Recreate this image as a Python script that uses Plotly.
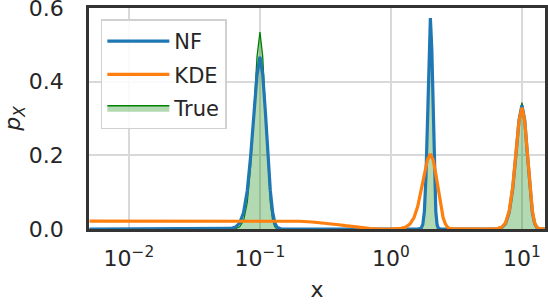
import plotly.graph_objects as go

# ---- data ----
true_x = [0.005, 0.06, 0.065, 0.07, 0.075, 0.08, 0.085, 0.09, 0.095, 0.1, 0.105, 0.11, 0.115, 0.12, 0.125, 0.13, 0.135, 0.14,
          1.6, 1.7, 1.75, 1.8, 1.85, 1.9, 1.95, 2.0, 2.05, 2.1, 2.15, 2.2, 2.25, 2.3, 2.4,
          6.0, 6.5, 7.0, 7.5, 8.0, 8.5, 9.0, 9.5, 10.0, 10.5, 11.0, 11.5, 12.0, 12.5, 13.0, 13.5, 14.0, 15.0]
true_y = [0.0, 0.0002, 0.001, 0.006, 0.023, 0.072, 0.172, 0.321, 0.468, 0.535, 0.468, 0.321, 0.172, 0.072, 0.023, 0.006, 0.001, 0.0,
          0.0, 0.002, 0.012, 0.048, 0.142, 0.308, 0.489, 0.572, 0.489, 0.308, 0.142, 0.048, 0.012, 0.002, 0.0,
          0.0001, 0.0007, 0.0038, 0.015, 0.046, 0.110, 0.206, 0.300, 0.343, 0.300, 0.206, 0.110, 0.046, 0.015, 0.0038, 0.0007, 0.0001, 0.0]

nf_x = [0.005, 0.055, 0.06, 0.065, 0.07, 0.075, 0.08, 0.085, 0.09, 0.095, 0.1, 0.105, 0.11, 0.115, 0.12, 0.125, 0.13, 0.135, 0.14, 0.145,
        1.6, 1.7, 1.75, 1.8, 1.85, 1.9, 1.95, 2.0, 2.05, 2.1, 2.15, 2.2, 2.25, 2.3, 2.4,
        6.0, 6.5, 7.0, 7.5, 8.0, 8.5, 9.0, 9.5, 10.0, 10.5, 11.0, 11.5, 12.0, 12.5, 13.0, 13.5, 14.0, 15.0]
nf_y = [0.0, 0.0003, 0.0015, 0.005, 0.016, 0.045, 0.104, 0.199, 0.318, 0.419, 0.468, 0.419, 0.318, 0.199, 0.104, 0.045, 0.016, 0.005, 0.0015, 0.0003,
        0.0, 0.002, 0.012, 0.048, 0.142, 0.308, 0.489, 0.573, 0.489, 0.308, 0.142, 0.048, 0.012, 0.002, 0.0,
        0.0001, 0.0007, 0.0038, 0.015, 0.046, 0.109, 0.203, 0.296, 0.336, 0.296, 0.203, 0.109, 0.046, 0.015, 0.0038, 0.0007, 0.0001, 0.0]

kde_x = [0.005, 0.01, 0.02, 0.05, 0.1, 0.15, 0.2, 0.25, 0.3, 0.35, 0.4, 0.45, 0.5, 0.6, 0.7, 0.8, 0.9, 1.0,
         1.2, 1.3, 1.4, 1.5, 1.6, 1.7, 1.8, 1.9, 2.0, 2.1, 2.2, 2.3, 2.4, 2.5, 2.6, 2.7, 2.8, 3.0,
         5.5, 6.0, 6.5, 7.0, 7.5, 8.0, 8.5, 9.0, 9.5, 10.0, 10.5, 11.0, 11.5, 12.0, 12.5, 13.0, 13.5, 14.0, 15.0]
kde_y = [0.0215, 0.0216, 0.0218, 0.0222, 0.0224, 0.0222, 0.021, 0.019, 0.0168, 0.0143, 0.0115, 0.009, 0.0067, 0.0033, 0.0013, 0.0004, 0.0001, 0.0,
         0.0018, 0.005, 0.014, 0.031, 0.061, 0.103, 0.149, 0.188, 0.204, 0.188, 0.149, 0.103, 0.061, 0.031, 0.014, 0.005, 0.0018, 0.0001,
         0.0, 0.0002, 0.001, 0.0048, 0.017, 0.050, 0.114, 0.206, 0.293, 0.330, 0.293, 0.206, 0.114, 0.050, 0.017, 0.0048, 0.001, 0.0002, 0.0]

tick_vals = [0.01, 0.1, 1, 10]
tick_text = ["10<sup>\u22122</sup>", "10<sup>\u22121</sup>", "10<sup>0</sup>", "10<sup>1</sup>"]
y_ticks = [0.0, 0.2, 0.4, 0.6]

FONT = "DejaVu Sans"
TXT = "#262626"
FS = 22

fig = go.Figure()
fig.add_trace(go.Scatter(x=true_x, y=true_y, mode="lines", name="True", fill="tozeroy",
                         fillcolor="rgba(0,128,0,0.3)", line=dict(color="#008000", width=1.3),
                         legendrank=3, legendgroup="c"))
fig.add_trace(go.Scatter(x=nf_x, y=nf_y, mode="lines", name="NF",
                         line=dict(color="#1f77b4", width=3.2), legendrank=1, legendgroup="a"))
fig.add_trace(go.Scatter(x=kde_x, y=kde_y, mode="lines", name="KDE",
                         line=dict(color="#ff7f0e", width=3.2), legendrank=2, legendgroup="b"))

fig.update_layout(
    width=548, height=304,
    margin=dict(l=89, r=3, t=8, b=75, autoexpand=False),
    paper_bgcolor="white", plot_bgcolor="white",
    font=dict(family=FONT, size=FS, color=TXT),
    showlegend=True,
    legend=dict(x=0.026, y=0.948, xanchor="left", yanchor="top",
                bgcolor="rgba(255,255,255,0.85)", bordercolor="#d0d0d0", borderwidth=1.5,
                font=dict(size=FS - 1, family=FONT, color=TXT), traceorder="grouped",
                tracegroupgap=3, itemwidth=62),
)
fig.update_xaxes(type="log", range=[-2.305, 1.176], automargin=False,
                 tickmode="array", tickvals=tick_vals, ticktext=tick_text,
                 showgrid=True, gridcolor="#d9d9d9", gridwidth=1.6,
                 showline=True, linecolor="#333333", linewidth=2.5, mirror=True,
                 ticks="outside", ticklen=8, tickcolor="rgba(0,0,0,0)",
                 ticklabeloverflow="allow",
                 tickfont=dict(size=FS, family=FONT, color=TXT),
                 zeroline=False,
                 title=dict(text="x", font=dict(size=FS, family=FONT, color=TXT), standoff=12))
fig.update_yaxes(range=[0, 0.6001], automargin=False, tickmode="array", tickvals=y_ticks, tickformat=".1f",
                 showgrid=True, gridcolor="#d9d9d9", gridwidth=1.6,
                 showline=True, linecolor="#333333", linewidth=2.5, mirror=True,
                 ticks="outside", ticklen=18, tickcolor="rgba(0,0,0,0)",
                 ticklabeloverflow="allow",
                 tickfont=dict(size=FS, family=FONT, color=TXT),
                 zeroline=False,
                 title=dict(text="<i>p<sub>X</sub></i>", font=dict(size=FS, family=FONT, color=TXT), standoff=14))

fig.write_html("out.html", config={"displayModeBar": False},
               post_script="document.body.style.margin='0';document.body.style.padding='0';")
